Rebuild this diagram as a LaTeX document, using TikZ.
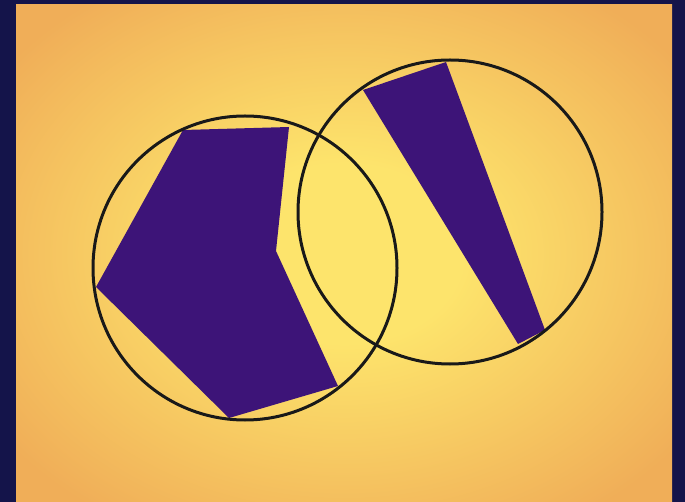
\documentclass[tikz,border=0pt]{standalone}
\usepackage{tikz}
\definecolor{navy}{HTML}{14144A}
\definecolor{glowin}{HTML}{FDE46C}
\definecolor{glowout}{HTML}{F0AE58}
\definecolor{grape}{HTML}{3D1478}
\pgfdeclareradialshading{glow}{\pgfpoint{0bp}{0bp}}{%
  color(0bp)=(glowin); color(9bp)=(glowin); color(32bp)=(glowout); color(60bp)=(glowout)}

\begin{document}
\begin{tikzpicture}[
      x=1pt, y=-1pt,
      ring/.style={draw=black!90, line width=3pt},
      blob/.style={fill=grape}
    ]
    \useasboundingbox (0,0) rectangle (685,502);
    % frame and glowing panel
    \fill[navy] (0,0) rectangle (685,502);
    \shade[shading=glow] (16,5) rectangle (672,502);
    % purple shapes
    \fill[blob] (183,130) -- (289,127) -- (276,251) -- (338,386)
                -- (229,418) -- (96,287) -- cycle;
    \fill[blob] (363,90) -- (446,62) -- (545,330) -- (518,344) -- cycle;
    % circles
    \coordinate (left)  at (245,268);
    \coordinate (right) at (450,212);
    \draw[ring] (left)  circle[radius=152];
    \draw[ring] (right) circle[radius=152];
  \end{tikzpicture}
\end{document}
